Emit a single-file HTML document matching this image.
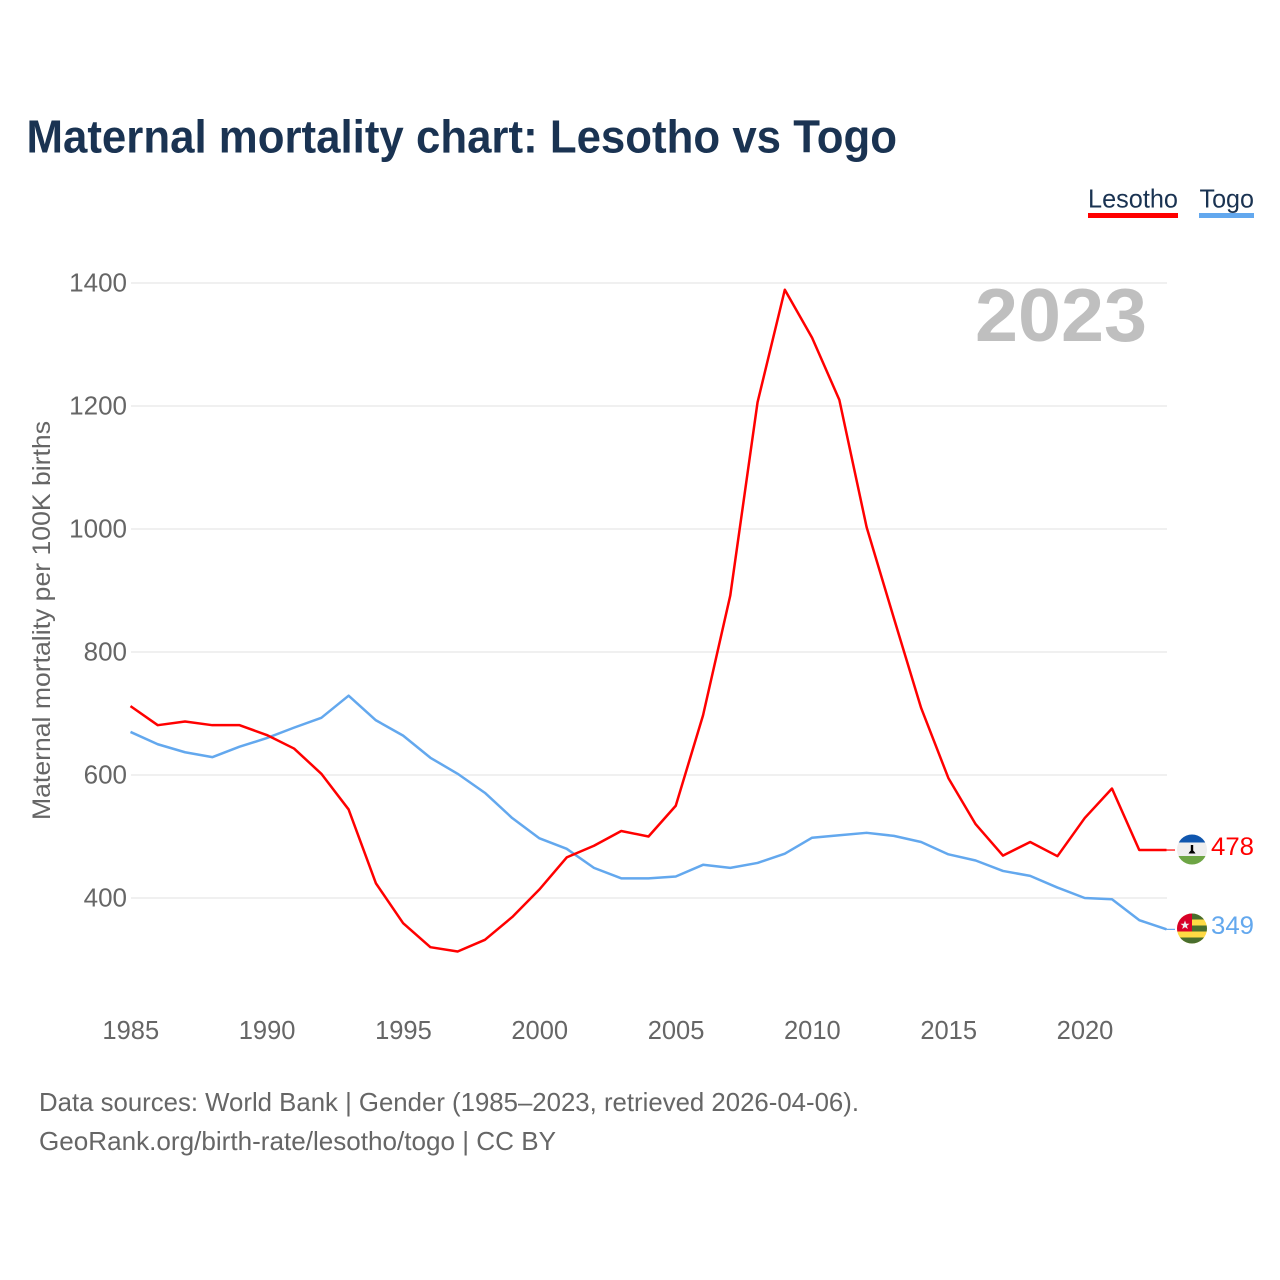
<!DOCTYPE html>
<html lang="en">
<head>
<meta charset="utf-8">
<title>Maternal mortality chart: Lesotho vs Togo</title>
<style>
html,body{margin:0;padding:0;background:#fff;}
svg{display:block;}
text{font-family:"Liberation Sans",sans-serif;}
</style>
</head>
<body>
<svg id="chart" xmlns="http://www.w3.org/2000/svg" width="1280" height="1280" viewBox="0 0 1280 1280">
  <defs>
    <clipPath id="flag-clip-ls"><circle cx="1192" cy="849.500" r="15"/></clipPath>
    <clipPath id="flag-clip-tg"><circle cx="1192" cy="928.500" r="15"/></clipPath>
  </defs>
  <rect width="1280" height="1280" fill="#fff"/>
  <text x="26.500" y="152.500" font-size="46" font-weight="700" fill="#1a3352" textLength="870.500" lengthAdjust="spacingAndGlyphs">Maternal mortality chart: Lesotho vs Togo</text>

  <text x="1088" y="207.500" font-size="26" fill="#1a3352" textLength="90" lengthAdjust="spacingAndGlyphs">Lesotho</text>
  <rect x="1088" y="213" width="90" height="5" fill="#ff0000"/>
  <text x="1199.500" y="207.500" font-size="26" fill="#1a3352" textLength="54.500" lengthAdjust="spacingAndGlyphs">Togo</text>
  <rect x="1199" y="213" width="55" height="5" fill="#63a8ee"/>

  <g id="grid"></g>
  <g id="y-ticks"></g>
  <g id="x-ticks"></g>

  <text x="975" y="341" font-size="75" font-weight="700" fill="#bfbfbf" textLength="172" lengthAdjust="spacingAndGlyphs">2023</text>

  <text transform="translate(50 820) rotate(-90)" font-size="25" fill="#666" textLength="399" lengthAdjust="spacingAndGlyphs">Maternal mortality per 100K births</text>

  <g id="series"></g>

  <g clip-path="url(#flag-clip-ls)">
    <rect x="1177" y="834" width="30" height="31" fill="#eeeeee"/>
    <rect x="1177" y="834" width="30" height="8.500" fill="#0f56ae"/>
    <rect x="1177" y="856" width="30" height="9" fill="#6da544"/>
    <rect x="1190.800" y="845" width="2.400" height="6" fill="#000"/>
    <path d="M1188.500 853.500 Q1192 847 1195.500 853.500 Z" fill="#000"/>
  </g>
  <g clip-path="url(#flag-clip-tg)">
    <rect x="1177" y="913.500" width="30" height="30" fill="#ffda44"/>
    <rect x="1192" y="913.500" width="15" height="6" fill="#496e2d"/>
    <rect x="1192" y="925.500" width="15" height="6" fill="#496e2d"/>
    <rect x="1177" y="937.500" width="30" height="6" fill="#496e2d"/>
    <rect x="1177" y="913.500" width="15" height="18" fill="#d80027"/>
    <polygon points="1185,920.500 1186.200,923.700 1189.500,923.800 1186.900,925.800 1187.800,929 1185,927.100 1182.200,929 1183.100,925.800 1180.500,923.800 1183.800,923.700" fill="#eeeeee"/>
  </g>

  <text id="end-label-lesotho" x="1211" y="855" font-size="25" fill="#ff0000" textLength="43" lengthAdjust="spacingAndGlyphs"></text>
  <text id="end-label-togo" x="1211" y="934" font-size="25" fill="#63a8ee" textLength="43" lengthAdjust="spacingAndGlyphs"></text>

  <text x="39" y="1111" font-size="26" fill="#666" textLength="820" lengthAdjust="spacingAndGlyphs">Data sources: World Bank | Gender (1985–2023, retrieved 2026-04-06).</text>
  <text x="39" y="1150" font-size="26" fill="#666" textLength="517" lengthAdjust="spacingAndGlyphs">GeoRank.org/birth-rate/lesotho/togo | CC BY</text>
</svg>
<script>
const years = [1985,1986,1987,1988,1989,1990,1991,1992,1993,1994,1995,1996,1997,1998,1999,2000,2001,2002,2003,2004,2005,2006,2007,2008,2009,2010,2011,2012,2013,2014,2015,2016,2017,2018,2019,2020,2021,2022,2023];
const lesothoValues = [712,681,687,681,681,665,643,602,544,424,359,320,313,332,369,414,466,485,509,500,550,697,892,1206,1389,1311,1210,1003,855,709,595,520,469,491,468,530,578,478,478];
const togoValues = [670,650,637,629,646,660,677,693,729,689,664,628,602,571,530,497,480,449,432,432,435,454,449,457,472,498,502,506,501,491,471,461,444,436,417,400,398,364,349];
const yTickValues = [400,600,800,1000,1200,1400];
const xTickValues = [1985,1990,1995,2000,2005,2010,2015,2020];

const NS = 'http://www.w3.org/2000/svg';
function xScale(year){ return 130.5 + (year - 1985) * (1166.5 - 130.5) / 38; }
function yScale(value){ return 898 - (value - 400) * 0.615; }
function make(tag, attrs, parent){
  const el = document.createElementNS(NS, tag);
  Object.keys(attrs).forEach(function(k){ el.setAttribute(k, attrs[k]); });
  parent.appendChild(el);
  return el;
}

const gridGroup = document.getElementById('grid');
const yGroup = document.getElementById('y-ticks');
yTickValues.forEach(function(v){
  const line = make('line', {x1:131, x2:1167, y1:yScale(v), y2:yScale(v), stroke:'#ececec', 'stroke-width':1.5}, gridGroup);
  
  
  const label = make('text', {x:127, y:yScale(v)+8.5, 'font-size':26, fill:'#666', 'text-anchor':'end'}, yGroup);
  
  
  label.textContent = String(v);
});

const xGroup = document.getElementById('x-ticks');
xTickValues.forEach(function(y){
  const label = make('text', {x:xScale(y)+0.3, y:1039, 'font-size':25.5, fill:'#666', 'text-anchor':'middle'}, xGroup);
  
  
  label.textContent = String(y);
});

function linePath(values){
  return values.map(function(v, i){
    return (i ? 'L' : 'M') + xScale(years[i]).toFixed(2) + ' ' + yScale(v).toFixed(2);
  }).join(' ');
}
const seriesGroup = document.getElementById('series');

const togoLine = make('path', {d:linePath(togoValues), fill:'none', stroke:'#63a8ee', 'stroke-width':2.5, 'stroke-linejoin':'round'}, seriesGroup);



const lesothoLine = make('path', {d:linePath(lesothoValues), fill:'none', stroke:'#ff0000', 'stroke-width':2.5, 'stroke-linejoin':'round'}, seriesGroup);



const lastLesotho = lesothoValues[lesothoValues.length - 1];
const lastTogo = togoValues[togoValues.length - 1];

const leaderL = make('line', {x1:1166.5, x2:1175, y1:yScale(lastLesotho), y2:yScale(lastLesotho), stroke:'#ff0000', 'stroke-width':1.2}, seriesGroup);



const leaderT = make('line', {x1:1166.5, x2:1175, y1:yScale(lastTogo), y2:yScale(lastTogo), stroke:'#63a8ee', 'stroke-width':1.2}, seriesGroup);



document.getElementById('end-label-lesotho').textContent = String(lastLesotho);
document.getElementById('end-label-togo').textContent = String(lastTogo);
</script>
</body>
</html>
